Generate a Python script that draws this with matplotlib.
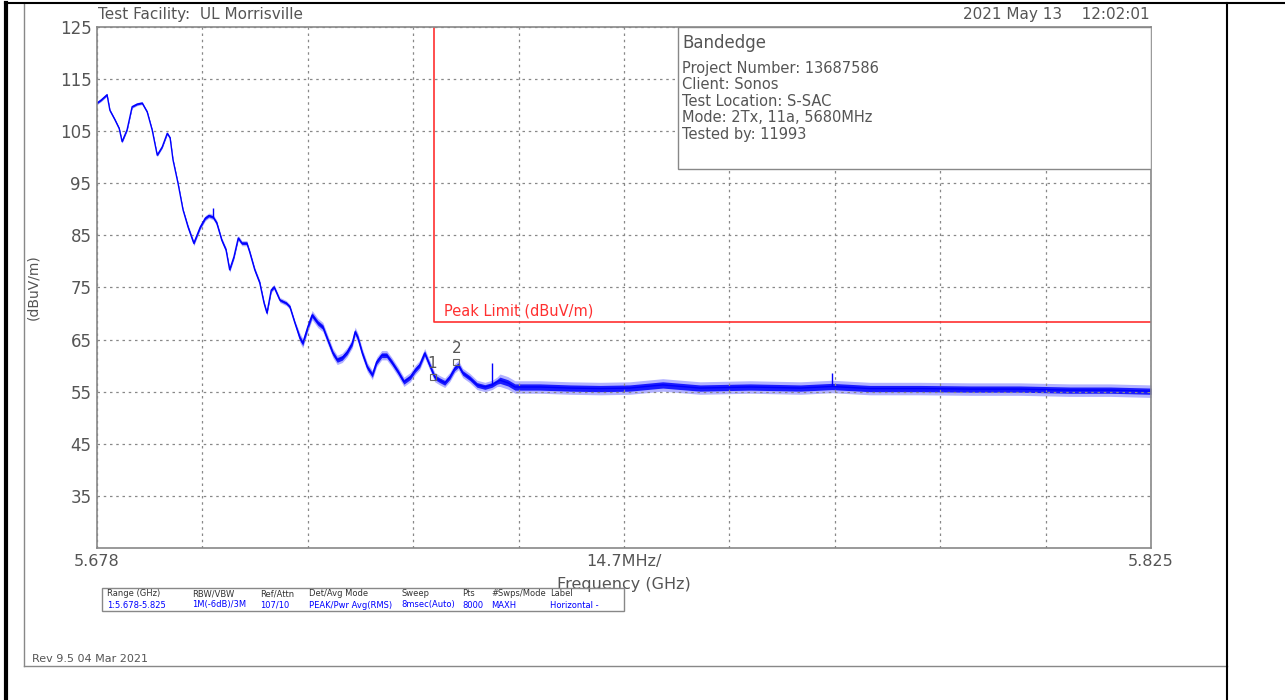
import matplotlib
matplotlib.use('Agg')
import matplotlib.pyplot as plt
from matplotlib.lines import Line2D
from matplotlib.patches import Rectangle
import numpy as np

# trace (GHz, dBuV/m) and approx noise half-width (dB)
freq = [5.6780, 5.6786, 5.6794, 5.6798, 5.6805, 5.6811, 5.6815, 5.6822, 5.6829, 5.6836,
        5.6843, 5.6850, 5.6857, 5.6864, 5.6871, 5.6878, 5.6882, 5.6886, 5.6893, 5.6900,
        5.6907, 5.6915, 5.6924, 5.6931, 5.6936, 5.6942, 5.6947, 5.6954, 5.6960, 5.6965,
        5.6971, 5.6977, 5.6982, 5.6989, 5.6993, 5.7000, 5.7007, 5.7013, 5.7017, 5.7023,
        5.7027, 5.7035, 5.7044, 5.7049, 5.7056, 5.7063, 5.7067, 5.7074, 5.7080, 5.7088,
        5.7095, 5.7102, 5.7109, 5.7115, 5.7122, 5.7129, 5.7136, 5.7140, 5.7144, 5.7150,
        5.7157, 5.7164, 5.7170, 5.7177, 5.7184, 5.7191, 5.7200, 5.7208, 5.7217, 5.7224,
        5.7230, 5.7237, 5.7244, 5.7251, 5.7258, 5.7265, 5.7272, 5.7279, 5.7284, 5.7290,
        5.7300, 5.7310, 5.7321, 5.7331, 5.7338, 5.7342, 5.7353, 5.7363, 5.7398, 5.7440,
        5.7482, 5.7523, 5.7569, 5.7621, 5.7691, 5.7761, 5.7805, 5.7858, 5.7928, 5.7998,
        5.8067, 5.8137, 5.8193, 5.8250]
level = [110.4, 111.0, 112.0, 109.0, 107.2, 105.5, 103.0, 105.3, 109.7, 110.2,
         110.4, 108.7, 105.2, 100.4, 102.0, 104.6, 103.7, 99.5, 95.0, 89.9,
         86.6, 83.5, 86.6, 88.3, 88.8, 88.5, 87.4, 84.1, 82.2, 78.4,
         80.9, 84.5, 83.5, 83.5, 81.8, 78.4, 75.9, 72.0, 70.1, 74.5,
         75.1, 72.6, 72.0, 71.3, 68.2, 65.3, 64.3, 67.4, 69.7, 68.2,
         67.4, 64.9, 62.4, 61.1, 61.5, 62.6, 64.3, 66.5, 65.3, 62.4,
         59.7, 58.2, 60.7, 62.0, 62.0, 60.7, 58.8, 56.9, 57.8, 59.2,
         60.1, 62.4, 60.1, 57.8, 57.2, 56.7, 57.8, 59.5, 60.1, 58.6,
         57.6, 56.3, 55.9, 56.3, 56.9, 57.2, 56.7, 55.9, 55.9, 55.7,
         55.6, 55.7, 56.3, 55.7, 55.9, 55.7, 56.0, 55.6, 55.6, 55.5,
         55.5, 55.3, 55.3, 55.1]
spread = [0.3] * 20 + [0.5] * 25 + [0.9] * 40 + [1.2] * 19

# narrow spikes above the trace
spike_f = [5.6942, 5.7331, 5.7805]
spike_top = [90.3, 60.5, 58.6]

# limit line
limit_f = [5.725, 5.725, 5.825]
limit_v = [125, 68.4, 68.4]

# markers
mk_f = [5.7248, 5.7281]
mk_v = [57.8, 60.7]
mk_lbl = ['1', '2']

yticks = [35, 45, 55, 65, 75, 85, 95, 105, 115, 125]

info_lines = ['Project Number: 13687586', 'Client: Sonos', 'Test Location: S-SAC',
              'Mode: 2Tx, 11a, 5680MHz', 'Tested by: 11993']
tbl_head = ['Range (GHz)', 'RBW/VBW', 'Ref/Attn', 'Det/Avg Mode', 'Sweep', 'Pts', '#Swps/Mode', 'Label']
tbl_vals = ['1:5.678-5.825', '1M(-6dB)/3M', '107/10', 'PEAK/Pwr Avg(RMS)', '8msec(Auto)', '8000', 'MAXH', 'Horizontal -']
tbl_x = [107, 192, 260, 309, 401, 462, 491, 550]

W, H = 1285, 700


def px(x, y):
    return x / W, 1 - y / H


fig = plt.figure(figsize=(W / 100, H / 100), dpi=100)
ax = fig.add_axes([97 / W, 1 - 548 / H, (1151 - 97) / W, (548 - 27) / H])

blue = '#0000ff'
f = np.array(freq)
lv = np.array(level)
sp = np.array(spread)
ax.fill_between(f, lv - sp, lv + sp, color=blue, alpha=0.3, lw=0)
ax.fill_between(f, lv - sp * 0.5, lv + sp * 0.5, color=blue, alpha=0.85, lw=0)
ax.plot(f, lv, color=blue, lw=1.0)
ax.vlines(spike_f, np.interp(spike_f, f, lv), spike_top, color=blue, lw=1)

ax.plot(limit_f, limit_v, color='#ff3030', lw=1.2)
ax.text(5.7264, 70.5, 'Peak Limit (dBuV/m)', color='#ff3030', fontsize=10.5, va='center')

for mf, mv, ml in zip(mk_f, mk_v, mk_lbl):
    ax.plot(mf, mv, marker='s', ms=4.5, mfc='none', mec='#666666', mew=0.8)
    ax.text(mf, mv + 2.6, ml, color='#555555', fontsize=11, ha='center', va='center')

ax.set_xlim(5.678, 5.825)
ax.set_ylim(25, 125)
ax.set_yticks(yticks)
ax.set_yticklabels([str(v) for v in yticks], fontsize=12, color='#555555')
xt = np.linspace(5.678, 5.825, 11)
ax.set_xticks(xt)
xl = [''] * 11
xl[0] = '5.678'
xl[5] = '14.7MHz/'
xl[10] = '5.825'
ax.set_xticklabels(xl, fontsize=11.5, color='#555555')
ax.tick_params(length=0, pad=4)
ax.grid(True, color='#888888', ls=(0, (2, 3)), lw=0.9)
for s in ax.spines.values():
    s.set_color('#888888')
    s.set_linewidth(1.2)
ax.set_xlabel('Frequency (GHz)', fontsize=11.5, color='#555555', labelpad=6)
ax.set_ylabel('(dBuV/m)', fontsize=10, color='#555555', labelpad=14)

# info box
ax.add_patch(Rectangle((5.7590, 97.8), 5.825 - 5.7590, 27.2, transform=ax.transData,
                       fc='white', ec='#888888', lw=1, zorder=5))
fig.text(*px(682, 43), 'Bandedge', fontsize=12, color='#555555', va='center')
for i, t in enumerate(info_lines):
    fig.text(*px(682, 68 + i * 16.5), t, fontsize=10.5, color='#555555', va='center')

fig.text(*px(98, 15), 'Test Facility:  UL Morrisville', fontsize=11, color='#555555', va='center')
fig.text(*px(1150, 15), '2021 May 13    12:02:01', fontsize=11, color='#555555', va='center', ha='right')

# settings table
fig.add_artist(Rectangle(px(102, 611), (624 - 102) / W, 23 / H, fc='none', ec='#888888', lw=1))
for x, hd, v in zip(tbl_x, tbl_head, tbl_vals):
    fig.text(*px(x, 594), hd, fontsize=6, color='#333333', va='center')
    fig.text(*px(x, 605), v, fontsize=6, color=blue, va='center')

fig.text(*px(32, 659), 'Rev 9.5 04 Mar 2021', fontsize=8, color='#555555', va='center')

# page frames
fig.add_artist(Line2D([24 / W, 24 / W], [1 - 3 / H, 1 - 666 / H], color='#888888', lw=1))
fig.add_artist(Line2D([24 / W, 1227 / W], [1 - 666 / H, 1 - 666 / H], color='#888888', lw=1))
fig.add_artist(Line2D([6 / W, 6 / W], [0, 1 - 3 / H], color='black', lw=3))
fig.add_artist(Line2D([5 / W, 1285 / W], [1 - 3 / H, 1 - 3 / H], color='black', lw=1.5))
fig.add_artist(Line2D([1227 / W, 1227 / W], [0, 1 - 3 / H], color='black', lw=1.5))

fig.savefig('out.png', dpi=100)
